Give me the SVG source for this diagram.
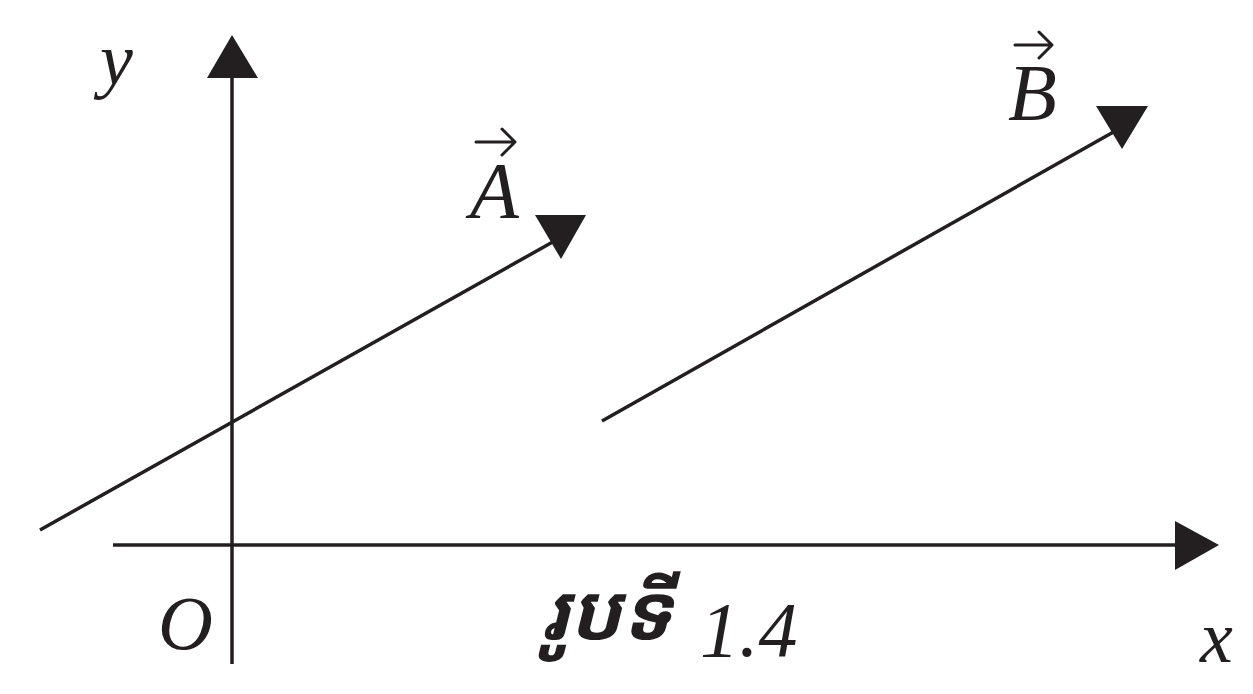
<svg xmlns="http://www.w3.org/2000/svg" width="1253" height="694" viewBox="0 0 1253 694">
<style>
.ln{stroke:#231f20;stroke-width:3.5;fill:none}
.hd{fill:#231f20;stroke:none}
.lb{font-family:'Liberation Serif','Times New Roman',Times,serif;font-style:italic;fill:#231f20}
.va{stroke:#231f20;stroke-width:3;fill:none;stroke-linecap:round;stroke-linejoin:round}
</style>
<rect width="1253" height="694" fill="#ffffff"/>
<g id="connectors">
<line class="ln" x1="232" y1="664" x2="232" y2="76"/>
<polygon class="hd" points="232,35 258,78 207,78"/>
<line class="ln" x1="113" y1="545" x2="1177" y2="545"/>
<polygon class="hd" points="1219,545 1175,521 1175,570"/>
<line class="ln" x1="40" y1="530" x2="558" y2="239"/>
<polygon class="hd" points="535,215 586,215 561,259"/>
<line class="ln" x1="602" y1="421" x2="1117" y2="130"/>
<polygon class="hd" points="1096,106 1148,106 1122,149"/>
</g>
<g id="label-y"><text class="lb" x="100" y="84" font-size="74" font-family="Liberation Serif" font-style="italic">y</text></g>
<g id="label-x"><text class="lb" x="1200" y="662" font-size="74" font-family="Liberation Serif" font-style="italic">x</text></g>
<g id="label-O"><text class="lb" x="158" y="649" font-size="76" font-family="Liberation Serif" font-style="italic">O</text></g>
<g id="label-A">
<text class="lb" x="470" y="218" font-size="80" font-family="Liberation Serif" font-style="italic">A</text>
<path class="va" d="M476,142 H514 M502,129 L515,142 L502,155"/>
</g>
<g id="label-B">
<text class="lb" x="1008" y="120" font-size="80" font-family="Liberation Serif" font-style="italic">B</text>
<path class="va" d="M1015,45 H1051 M1039,32 L1052,45 L1039,58"/>
</g>
<g id="caption">
<text x="540" y="640" font-size="78" font-weight="bold" font-style="italic" fill="#231f20" font-family="'Noto Sans Khmer','Khmer OS','Noto Serif Khmer',serif">រូបទី</text>
<text class="lb" x="700" y="656" font-size="78" font-family="Liberation Serif" font-style="italic">1.4</text>
</g>
</svg>
